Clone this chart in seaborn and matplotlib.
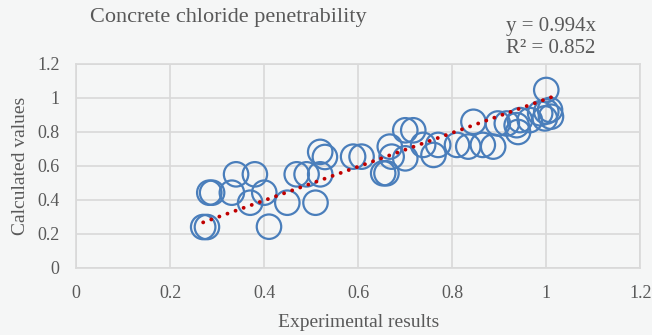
import numpy as np
import pandas as pd
import seaborn as sb
import matplotlib.pyplot as plt
import matplotlib.ticker as ticker

#%% Data
experimental = [0.27, 0.278, 0.283, 0.289, 0.331, 0.34, 0.38, 0.37, 0.40, 0.41,
                0.449, 0.469, 0.49, 0.509, 0.519, 0.519, 0.529, 0.589, 0.607,
                0.653, 0.66, 0.667, 0.671, 0.70, 0.717, 0.70, 0.738, 0.76,
                0.77, 0.81, 0.834, 0.845, 0.865, 0.887, 0.897, 0.916, 0.937,
                0.944, 0.94, 0.965, 0.987, 1.0, 1.0, 1.008, 1.01, 0.997]
calculated = [0.241, 0.241, 0.443, 0.443, 0.443, 0.551, 0.551, 0.384, 0.443, 0.243,
              0.384, 0.551, 0.551, 0.384, 0.551, 0.683, 0.653, 0.655, 0.655,
              0.557, 0.557, 0.714, 0.655, 0.81, 0.81, 0.645, 0.724, 0.665,
              0.724, 0.724, 0.714, 0.86, 0.724, 0.714, 0.85, 0.85, 0.84,
              0.87, 0.80, 0.87, 0.91, 1.047, 0.92, 0.93, 0.89, 0.88]
slope = 0.994
r2 = 0.852

df = pd.DataFrame({'exp': experimental, 'calc': calculated})
trend_x = np.array([min(experimental), max(experimental)])
trend = pd.DataFrame({'exp': trend_x, 'calc': slope * trend_x})

#%% Style
bg = '#f5f6f6'
grey_text = '#595959'
sb.set_style('white')
plt.rcParams['font.family'] = ['Liberation Serif', 'DejaVu Serif']

fig = plt.figure(figsize=(6.52, 3.35), dpi=100, facecolor=bg)
ax = fig.add_axes([0.117, 0.2, 0.865, 0.609])
ax.set_facecolor(bg)

sb.scatterplot(data=df, x='exp', y='calc', ax=ax, s=310, facecolor='none',
               edgecolor='#4a7ebb', linewidth=1.6, zorder=3)
sb.lineplot(data=trend, x='exp', y='calc', ax=ax, color='#c00000',
            linewidth=2.8, zorder=4, dashes=False)
for line in ax.lines:
    line.set_linestyle((0, (0.01, 2.2)))
    line.set_dash_capstyle('round')

ax.set_xlim(0, 1.2)
ax.set_ylim(0, 1.2)
ax.set_xticks(np.arange(0, 1.21, 0.2))
ax.set_yticks(np.arange(0, 1.21, 0.2))
fmt = ticker.FuncFormatter(lambda v, p: '{:g}'.format(round(v, 1)))
ax.xaxis.set_major_formatter(fmt)
ax.yaxis.set_major_formatter(fmt)
ax.grid(True, color='#d9d9d9', linewidth=1.2)
ax.set_axisbelow(True)
for sp in ax.spines.values():
    sp.set_color('#d9d9d9')
    sp.set_linewidth(1.2)
ax.tick_params(length=0, labelsize=13, colors=grey_text, pad=12)

ax.set_xlabel('Experimental results', fontsize=14, color=grey_text, labelpad=9)
ax.set_ylabel('Calculated values', fontsize=14, color=grey_text, labelpad=6)

fig.text(0.138, 0.948, 'Concrete chloride penetrability', fontsize=16,
         color=grey_text, va='center')
fig.text(0.776, 0.921, 'y = {}x'.format(slope), fontsize=15, color=grey_text, va='center')
fig.text(0.776, 0.856, 'R² = {}'.format(r2), fontsize=15, color=grey_text, va='center')

fig.savefig('out.png', dpi=100, facecolor=bg)
